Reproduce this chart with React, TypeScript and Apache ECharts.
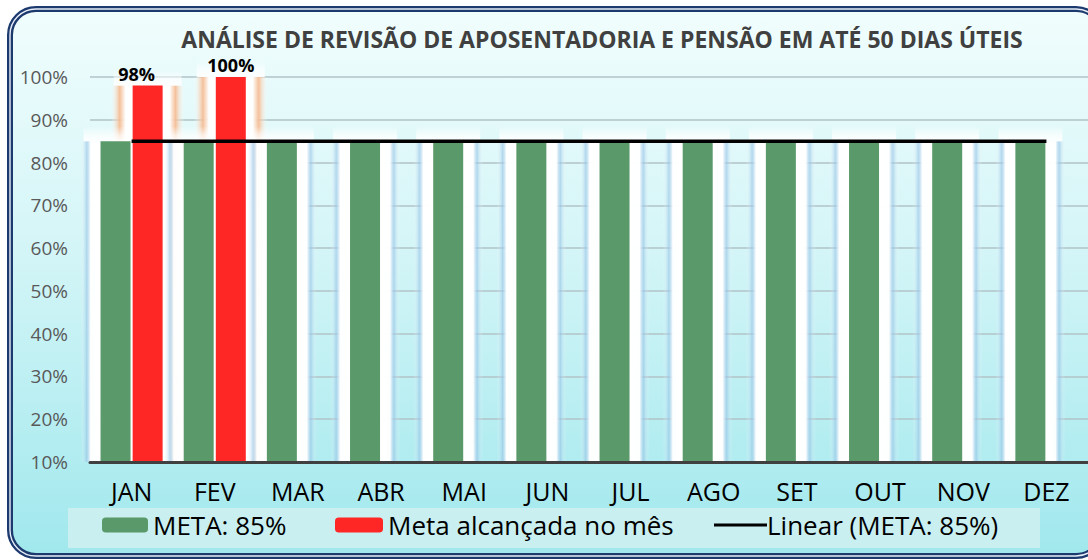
import { useEffect, useRef } from "react";
import * as echarts from "echarts";

const TITLE = "ANÁLISE DE REVISÃO DE APOSENTADORIA E PENSÃO EM ATÉ 50 DIAS ÚTEIS";
const categories = ["JAN", "FEV", "MAR", "ABR", "MAI", "JUN", "JUL", "AGO", "SET", "OUT", "NOV", "DEZ"];
const metaValues = [85, 85, 85, 85, 85, 85, 85, 85, 85, 85, 85, 85];
const achievedValues: (number | null)[] = [98, 100, null, null, null, null, null, null, null, null, null, null];
const trendValues = [85, 85, 85, 85, 85, 85, 85, 85, 85, 85, 85, 85];
const seriesNames = ["META: 85%", "Meta alcançada no mês", "Linear (META: 85%)"];
const yMin = 10;
const yMax = 100;
const yInterval = 10;

const FONT = "'Open Sans', sans-serif";
const BAR_W = 30;
const BAR_GAP_PX = 2;

// glow = white halo near the bar, coloured fringe further out, then transparent
function glowStops(total: number, whiteTo: number, fringeAt: number, fringe: string) {
  const w = BAR_W + 2 * total;
  const f = (px: number) => Math.min(1, Math.max(0, px / w));
  const left = [
    { offset: 0, color: "rgba(255,255,255,0)" },
    { offset: f(total - fringeAt), color: fringe },
    { offset: f(total - whiteTo), color: "rgba(255,255,255,0.97)" },
    { offset: f(total), color: "rgba(255,255,255,1)" },
  ];
  const right = left
    .slice()
    .reverse()
    .map((s) => ({ offset: 1 - s.offset, color: s.color }));
  return [...left, ...right];
}

function glowRender(params: any, api: any) {
  const idx = api.value(0);
  const meta = api.value(1);
  const ach = api.value(2);
  const base = api.coord([idx, yMin]);
  const cx = base[0];
  const axisY = base[1];
  const off = (BAR_W + BAR_GAP_PX) / 2;
  const children: any[] = [];
  const add = (centerX: number, value: number, fringe: string, total: number, whiteTo: number, fringeAt: number) => {
    const top = api.coord([idx, value])[1];
    const x = centerX - BAR_W / 2 - total;
    const width = BAR_W + 2 * total;
    children.push({
      type: "rect",
      shape: { x, y: top, width, height: axisY - top },
      style: { fill: new echarts.graphic.LinearGradient(0, 0, 1, 0, glowStops(total, whiteTo, fringeAt, fringe)) },
    });
    children.push({
      type: "rect",
      shape: { x: x + 3, y: top - 15, width: width - 6, height: 15 },
      style: {
        fill: new echarts.graphic.LinearGradient(0, 0, 0, 1, [
          { offset: 0, color: "rgba(255,255,255,0)" },
          { offset: 0.55, color: "rgba(255,255,255,0.65)" },
          { offset: 1, color: "rgba(255,255,255,0.95)" },
        ]),
      },
    });
  };
  if (!isNaN(ach)) add(cx + off, ach, "rgba(246,186,144,0.9)", 22, 7, 13);
  if (!isNaN(meta)) add(cx - off, meta, "rgba(150,196,230,0.6)", 20, 10, 14);
  return { type: "group", children };
}

export default function App() {
  const ref = useRef<HTMLDivElement>(null);
  useEffect(() => {
    if (!ref.current) return;
    const chart = echarts.init(ref.current, undefined, { renderer: "svg" });
    const glowData = categories.map((_, i) => [i, metaValues[i], achievedValues[i] == null ? NaN : achievedValues[i]]);
    const achievedData = achievedValues.map((v, i) => (i === 0 && v != null ? { value: v, label: { offset: [-11, 0] } } : v));
    chart.setOption({
      animation: false,
      textStyle: { fontFamily: FONT },
      title: {
        text: TITLE,
        left: 597,
        top: 22,
        textAlign: "center",
        textStyle: { fontFamily: FONT, fontSize: 23, fontWeight: "bold", color: "#404040" },
      },
      graphic: [
        {
          type: "rect",
          z: -10,
          shape: { x: 10, y: 9, width: 1092, height: 547, r: 26 },
          style: {
            fill: new echarts.graphic.LinearGradient(0, 0, 0, 1, [
              { offset: 0, color: "#f1fdfd" },
              { offset: 0.45, color: "#d3f5f7" },
              { offset: 1, color: "#a0e8ed" },
            ]),
            stroke: "#1d3a6e",
            lineWidth: 6,
          },
        },
        {
          type: "rect",
          z: -9,
          shape: { x: 10, y: 9, width: 1092, height: 547, r: 26 },
          style: { fill: "none", stroke: "#e8eef8", lineWidth: 1.4 },
        },
        {
          type: "rect",
          z: -5,
          shape: { x: 68, y: 508, width: 972, height: 40 },
          style: { fill: "#c9eff1" },
        },
      ],
      legend: [
        {
          data: [seriesNames[0]],
          left: 102,
          top: 512,
          padding: 0,
          itemWidth: 46,
          itemHeight: 15,
          textStyle: { fontFamily: FONT, fontSize: 26, color: "#000" },
        },
        {
          data: [seriesNames[1]],
          left: 335,
          top: 512,
          padding: 0,
          itemWidth: 48,
          itemHeight: 15,
          textStyle: { fontFamily: FONT, fontSize: 26, color: "#000" },
        },
        {
          data: [{ name: seriesNames[2], icon: "rect" }],
          left: 714,
          top: 512,
          padding: 0,
          itemWidth: 53,
          itemHeight: 3,
          textStyle: { fontFamily: FONT, fontSize: 26, color: "#000", padding: [0, 0, 0, -5] },
        },
      ],
      grid: { left: 90, top: 77, width: 1008, height: 385, containLabel: false },
      xAxis: {
        type: "category",
        data: categories,
        z: 4,
        axisLine: { show: true, lineStyle: { color: "#404040", width: 3 } },
        axisTick: { show: false },
        axisLabel: { color: "#000", fontSize: 25, margin: 16, fontFamily: FONT },
      },
      yAxis: {
        type: "value",
        min: yMin,
        max: yMax,
        interval: yInterval,
        axisLine: { show: false },
        axisTick: { show: false },
        axisLabel: { formatter: "{value}%", color: "#595959", fontSize: 19, margin: 22, fontFamily: FONT },
        splitLine: { lineStyle: { color: "#b0c3c7", width: 1.5 } },
      },
      series: [
        {
          type: "custom",
          name: "glow",
          silent: true,
          data: glowData,
          renderItem: glowRender,
          encode: { x: 0, y: 1 },
        },
        {
          name: seriesNames[0],
          type: "bar",
          data: metaValues,
          barWidth: BAR_W,
          barGap: "7%",
          itemStyle: { color: "#5a9a6a" },
        },
        {
          name: seriesNames[1],
          type: "bar",
          data: achievedData,
          barWidth: BAR_W,
          itemStyle: { color: "#ff2626" },
          label: {
            show: true,
            position: "top",
            distance: 3,
            formatter: "{c}%",
            fontFamily: FONT,
            fontSize: 18,
            fontWeight: "bold",
            color: "#000",
          },
        },
        {
          name: seriesNames[2],
          type: "line",
          data: trendValues,
          symbol: "none",
          itemStyle: { color: "#000" },
          lineStyle: { color: "#000", width: 3.5 },
          z: 5,
        },
      ],
    });
    return () => chart.dispose();
  }, []);
  return <div ref={ref} style={{ position: "absolute", left: 0, top: 0, width: 1088, height: 560 }} />;
}
